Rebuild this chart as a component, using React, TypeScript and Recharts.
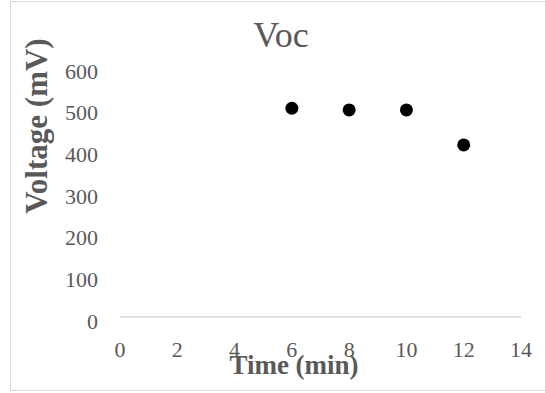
import { ScatterChart, Scatter, XAxis, YAxis } from "recharts";

const times = [6, 8, 10, 12];
const voltages = [501, 497, 497, 413];
const xTicks = [0, 2, 4, 6, 8, 10, 12, 14];
const yTicks = [0, 100, 200, 300, 400, 500, 600];

const points = times.map((t, i) => ({ time: t, voc: voltages[i] }));

const gray = "#595959";
const font = "'Liberation Serif', 'Times New Roman', serif";

const Dot = (props: any) => (
  <circle cx={props.cx} cy={props.cy} r={6.5} fill="#000000" />
);

export default function App() {
  return (
    <div
      style={{
        position: "absolute",
        left: 0,
        top: 0,
        width: 545,
        height: 393,
        background: "#ffffff",
        fontFamily: font,
      }}
    >
      <div
        style={{
          position: "absolute",
          left: 10,
          top: 1,
          width: 540,
          height: 388,
          border: "1px solid #d9d9d9",
        }}
      />
      <ScatterChart
        width={545}
        height={393}
        margin={{ top: 67, right: 24, bottom: 16, left: 0 }}
      >
        <XAxis
          type="number"
          dataKey="time"
          domain={[0, 14]}
          ticks={xTicks}
          axisLine={{ stroke: "#d9d9d9", strokeWidth: 1.5 }}
          tickLine={false}
          tickSize={0}
          tickMargin={24}
          height={60}
          tick={{ fill: gray, fontSize: 22, fontFamily: font }}
        />
        <YAxis
          type="number"
          dataKey="voc"
          domain={[0, 600]}
          ticks={yTicks}
          axisLine={false}
          tickLine={false}
          tickSize={0}
          tickMargin={22}
          width={120}
          tick={{ fill: gray, fontSize: 22, fontFamily: font, dy: 4 }}
        />
        <Scatter data={points} shape={Dot} isAnimationActive={false} />
      </ScatterChart>
      {/* titles as html overlays, placed to match the original */}
      <div
        style={{
          position: "absolute",
          left: 281,
          top: 17,
          transform: "translateX(-50%)",
          fontSize: 36,
          lineHeight: 1,
          color: gray,
          whiteSpace: "nowrap",
        }}
      >
        Voc
      </div>
      <div
        style={{
          position: "absolute",
          left: 294,
          top: 352,
          transform: "translateX(-50%)",
          fontSize: 27,
          fontWeight: "bold",
          lineHeight: 1,
          color: gray,
          whiteSpace: "nowrap",
        }}
      >
        Time (min)
      </div>
      <div
        style={{
          position: "absolute",
          left: 36,
          top: 126,
          transform: "translate(-50%, -50%) rotate(-90deg)",
          fontSize: 31,
          fontWeight: "bold",
          lineHeight: 1,
          color: gray,
          whiteSpace: "nowrap",
        }}
      >
        Voltage (mV)
      </div>
    </div>
  );
}
